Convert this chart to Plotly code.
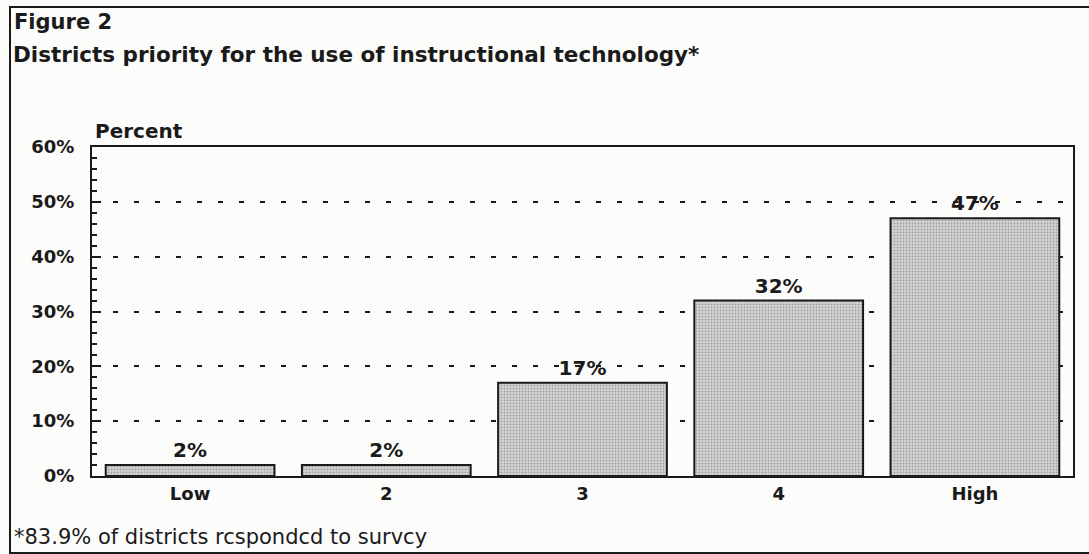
import plotly.graph_objects as go

# priority level vs percent of districts
categories = ["Low", "2", "3", "4", "High"]
percents = [2, 2, 17, 32, 47]
bar_labels = ["2%", "2%", "17%", "32%", "47%"]
y_ticks = [0, 10, 20, 30, 40, 50, 60]
y_tick_labels = ["0%", "10%", "20%", "30%", "40%", "50%", "60%"]

FONT = "DejaVu Sans"
INK = "#1a1a1a"
W, H = 1089, 554
L, R, T, B = 92, 1073, 147, 476  # plot area in pixels


def px(x):
    return (x - L) / (R - L)


def py(y):
    return (B - y) / (B - T)


fig = go.Figure(go.Bar(
    x=categories,
    y=percents,
    text=bar_labels,
    textposition="outside",
    textfont=dict(family=FONT, size=20, color=INK, weight="bold"),
    cliponaxis=False,
    marker=dict(
        color="#c4c4c4",
        line=dict(color=INK, width=2),
        pattern=dict(shape=".", size=3, solidity=0.35, fgcolor="#707070", bgcolor="#d4d4d4"),
    ),
))

fig.update_layout(
    width=W, height=H,
    margin=dict(l=L, r=W - R, t=T, b=H - B),
    paper_bgcolor="#fcfcfb",
    plot_bgcolor="#fcfcfb",
    bargap=0.14,
    showlegend=False,
    font=dict(family=FONT, color=INK),
)

fig.update_xaxes(
    showline=True, linecolor=INK, linewidth=2, mirror=True,
    ticks="", tickfont=dict(family=FONT, size=18, color=INK, weight="bold"),
    ticklabelstandoff=0,
)
fig.update_yaxes(
    range=[0, 60], tickvals=y_ticks, ticktext=y_tick_labels,
    showline=True, linecolor=INK, linewidth=2, mirror=True,
    ticks="inside", ticklen=9, tickwidth=2, tickcolor=INK,
    minor=dict(dtick=2, ticks="inside", ticklen=5, tickwidth=2, tickcolor=INK),
    tickfont=dict(family=FONT, size=18, color=INK, weight="bold"),
    ticklabelstandoff=12,
    showgrid=True, gridcolor=INK, gridwidth=2, griddash="5px,16px",
    zeroline=False,
)

# headings and footnote
fig.add_annotation(x=px(12), y=py(22), xref="paper", yref="paper",
                   text="<b>Figure 2</b>", showarrow=False, xanchor="left", yanchor="middle",
                   font=dict(family=FONT, size=21, color=INK))
fig.add_annotation(x=px(11), y=py(54), xref="paper", yref="paper",
                   text="<b>Districts priority for the use of instructional technology*</b>",
                   showarrow=False, xanchor="left", yanchor="middle",
                   font=dict(family=FONT, size=21.5, color=INK))
fig.add_annotation(x=px(93), y=py(131), xref="paper", yref="paper",
                   text="<b>Percent</b>", showarrow=False, xanchor="left", yanchor="middle",
                   font=dict(family=FONT, size=20, color=INK))
fig.add_annotation(x=px(12), y=py(537), xref="paper", yref="paper",
                   text="*83.9% of districts rcspondcd to survcy", showarrow=False,
                   xanchor="left", yanchor="middle",
                   font=dict(family=FONT, size=21, color=INK))

# outer frame of the scanned figure
fig.add_shape(type="rect", xref="paper", yref="paper",
              x0=px(10), x1=px(1100), y0=py(553), y1=py(7),
              line=dict(color=INK, width=2))

fig.write_html("out.html", config={"displayModeBar": False},
               post_script="document.body.style.margin='0';")
